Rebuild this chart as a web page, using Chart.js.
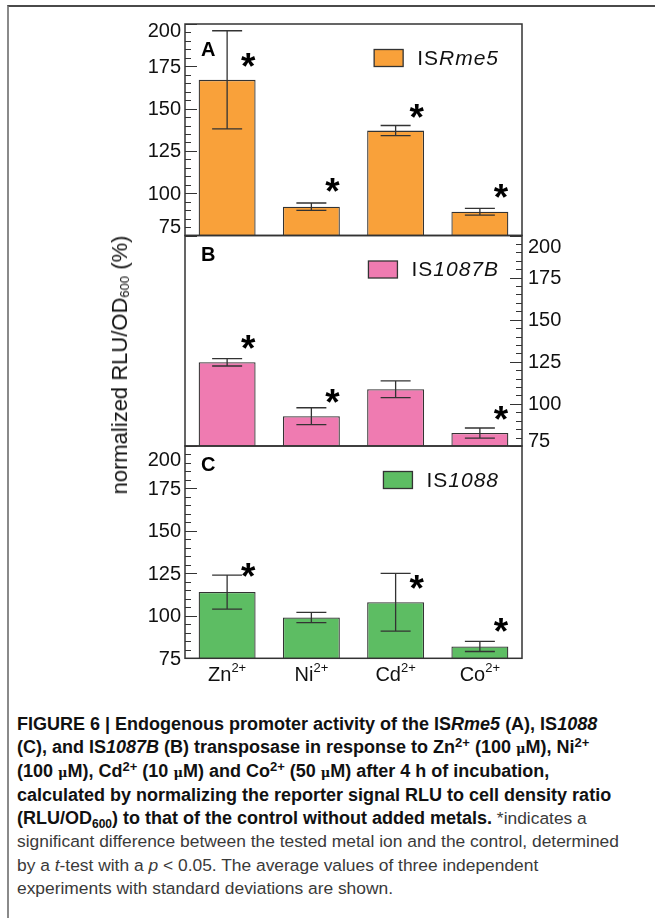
<!DOCTYPE html>
<html>
<head>
<meta charset="utf-8">
<script src="https://cdn.jsdelivr.net/npm/chart.js@4.4.1/dist/chart.umd.min.js"></script>
<style>
  html, body { margin: 0; padding: 0; background: #fff; }
  #fig { position: relative; width: 655px; height: 918px; overflow: hidden; }
  #frame { position: absolute; left: 7px; top: 5px; right: -4px; bottom: -4px; border-top: 2px solid #4a4a4a; border-left: 2px solid #8a8a8a; }
  canvas { position: absolute; left: 0; }
  #ytitle {
    position: absolute; left: 120px; top: 365px; transform: translate(-50%, -50%) rotate(-90deg);
    font: 22px "Liberation Sans", Arial, sans-serif; color: #111; white-space: nowrap; line-height: 24px;
  }
  #ytitle sub { font-size: 13px; vertical-align: -2px; line-height: 0; }
  #caption {
    position: absolute; left: 17px; top: 713px; width: 640px;
    font: 17.4px "Liberation Sans", Arial, sans-serif; line-height: 23.1px; color: #3a3a3a; white-space: nowrap;
  }
  #caption b { color: #111; font-size: 18px; }
  #caption .mu { font-family: "DejaVu Serif", serif; font-size: 13px; }
  #caption sup { font-size: 13px; vertical-align: 6px; line-height: 0; }
  #caption sub { font-size: 12px; vertical-align: -4px; line-height: 0; }
</style>
</head>
<body>
<div id="fig">
  <div id="frame"></div>
  <canvas id="cA" width="655" height="250" style="top:0px"></canvas>
  <canvas id="cB" width="655" height="240" style="top:220px"></canvas>
  <canvas id="cC" width="655" height="270" style="top:430px"></canvas>
  <div id="ytitle">normalized RLU/OD<sub>600</sub> (%)</div>
  <div id="caption">
    <b>FIGURE 6 | Endogenous promoter activity of the IS<i>Rme5</i> (A), IS<i>1088</i></b><br>
    <b>(C), and IS<i>1087B</i> (B) transposase in response to Zn<sup>2+</sup> (100 <span class="mu">μ</span>M), Ni<sup>2+</sup></b><br>
    <b>(100 <span class="mu">μ</span>M), Cd<sup>2+</sup> (10 <span class="mu">μ</span>M) and Co<sup>2+</sup> (50 <span class="mu">μ</span>M) after 4 h of incubation,</b><br>
    <b>calculated by normalizing the reporter signal RLU to cell density ratio</b><br>
    <b>(RLU/OD<sub>600</sub>) to that of the control without added metals.</b> *indicates a<br>
    significant difference between the tested metal ion and the control, determined<br>
    by a <i>t</i>-test with a <i>p</i> &lt; 0.05. The average values of three independent<br>
    experiments with standard deviations are shown.
  </div>
</div>
<script>
/* ── data ── */
const CAT_BASE = ['Zn', 'Ni', 'Cd', 'Co'];
const CAT_SUP = ['2+', '2+', '2+', '2+'];

const Y_MIN = 75, Y_MAX = 200, Y_STEP = 25, Y_MINOR = 5;

// ISRme5 (panel A)
const A_VALUES = [167, 92, 137, 89];
const A_ERR = [29, 2.2, 3, 2];
const A_STARS = [180, 106, 150, 102.5];

// IS1087B (panel B)
const B_VALUES = [124.7, 92.7, 108.7, 82.7];
const B_ERR = [2.2, 5, 5, 3];
const B_STARS = [138, 106, null, 95.5];

// IS1088 (panel C)
const C_VALUES = [114, 99, 108, 82];
const C_ERR = [10, 3, 17, 3];
const C_STARS = [128, null, 121, 96];

const FONT = '"Liberation Sans", Arial, sans-serif';
const INK = '#333';

/* ── panel drawing: error bars, frame, inner ticks, labels, stars, legend ── */
const panelPlugin = {
  id: 'panel',
  afterDatasetsDraw(chart, args, o) {
    const { ctx, chartArea: a, scales: { x, y } } = chart;
    const meta = chart.getDatasetMeta(0);
    ctx.save();
    ctx.strokeStyle = INK;
    ctx.lineWidth = 1.3;

    // error bars
    o.values.forEach((v, i) => {
      const px = meta.data[i].x;
      const top = y.getPixelForValue(v + o.err[i]);
      const bot = y.getPixelForValue(v - o.err[i]);
      ctx.beginPath();
      ctx.moveTo(px, top); ctx.lineTo(px, bot);
      ctx.moveTo(px - 15, top); ctx.lineTo(px + 15, top);
      ctx.moveTo(px - 15, bot); ctx.lineTo(px + 15, bot);
      ctx.stroke();
    });

    // frame
    ctx.lineWidth = 1.5;
    ctx.strokeRect(a.left, a.top, a.right - a.left, a.bottom - a.top);

    // inner ticks + tick labels
    const right = o.side === 'right';
    const ax = right ? a.right : a.left;
    const dir = right ? -1 : 1;
    ctx.lineWidth = 1;
    ctx.beginPath();
    for (let v = Y_MIN; v <= Y_MAX; v += Y_MINOR) {
      const py = Math.round(y.getPixelForValue(v)) + 0.5;
      const len = v % Y_STEP === 0 ? 12 : 6;
      ctx.moveTo(ax, py); ctx.lineTo(ax + dir * len, py);
    }
    ctx.stroke();
    ctx.fillStyle = '#111';
    ctx.font = '20px ' + FONT;
    ctx.textBaseline = 'middle';
    ctx.textAlign = right ? 'left' : 'right';
    for (let v = Y_MIN; v <= Y_MAX; v += Y_STEP) {
      let py = y.getPixelForValue(v);
      if (v === Y_MAX) py += o.nudge[0];
      if (v === Y_MIN) py += o.nudge[1];
      ctx.fillText(String(v), right ? a.right + 6 : a.left - 4, py + 1);
    }

    // significance stars
    ctx.fillStyle = '#000';
    ctx.font = 'bold 37px ' + FONT;
    ctx.textAlign = 'center';
    ctx.textBaseline = 'alphabetic';
    o.stars.forEach((s, i) => {
      if (s == null) return;
      ctx.fillText('*', x.getPixelForValue(i) + 21, y.getPixelForValue(s) + 21);
    });

    // panel letter
    ctx.font = 'bold 20px ' + FONT;
    ctx.textAlign = 'left';
    ctx.textBaseline = 'middle';
    ctx.fillText(o.letter, a.left + 16, a.top + o.letterDy);

    // legend
    ctx.letterSpacing = '1px';
    ctx.font = '21px ' + FONT;
    const w1 = ctx.measureText('IS').width;
    ctx.font = 'italic 21px ' + FONT;
    const w2 = ctx.measureText(o.name).width;
    const tr = a.right - 23, ty = a.top + 34;
    const tx = tr - w1 - w2;
    ctx.fillStyle = '#111';
    ctx.font = '21px ' + FONT;
    ctx.fillText('IS', tx, ty + 1);
    ctx.font = 'italic 21px ' + FONT;
    ctx.fillText(o.name, tx + w1, ty + 1);
    ctx.letterSpacing = '0px';
    ctx.fillStyle = o.color;
    ctx.fillRect(tx - 14 - 29, ty - 8.5, 29, 17);
    ctx.lineWidth = 1.3;
    ctx.strokeRect(tx - 14 - 29, ty - 8.5, 29, 17);

    // category labels (bottom panel only)
    if (o.xlabels) {
      ctx.fillStyle = '#111';
      ctx.textBaseline = 'alphabetic';
      CAT_BASE.forEach((b, i) => {
        ctx.font = '20px ' + FONT;
        const wb = ctx.measureText(b).width;
        ctx.font = '13px ' + FONT;
        const ws = ctx.measureText(CAT_SUP[i]).width;
        const sx = x.getPixelForValue(i) - (wb + ws) / 2;
        const by = a.bottom + 23;
        ctx.font = '20px ' + FONT;
        ctx.fillText(b, sx, by);
        ctx.font = '13px ' + FONT;
        ctx.fillText(CAT_SUP[i], sx + wb, by - 9);
      });
    }
    ctx.restore();
  }
};

function makePanel(id, values, err, stars, color, letter, name, side, pad, extra) {
  return new Chart(document.getElementById(id), {
    type: 'bar',
    data: {
      labels: CAT_BASE,
      datasets: [{
        data: values, backgroundColor: color, borderColor: INK, borderWidth: 1.3,
        categoryPercentage: 1, barPercentage: 0.676
      }]
    },
    options: {
      responsive: false, animation: false, devicePixelRatio: 1,
      layout: { padding: pad },
      plugins: {
        legend: { display: false }, tooltip: { enabled: false },
        panel: Object.assign({ values, err, stars, color, letter, name, side }, extra)
      },
      scales: {
        x: { display: false },
        y: {
          position: side, min: Y_MIN, max: Y_MAX,
          ticks: { stepSize: Y_STEP, display: false },
          grid: { display: false, drawTicks: false }, border: { display: false },
          afterFit: s => { s.width = side === 'right' ? 133 : 185; }
        }
      }
    },
    plugins: [panelPlugin]
  });
}

makePanel('cA', A_VALUES, A_ERR, A_STARS, '#F9A13A', 'A', 'Rme5', 'left',
  { top: 24, bottom: 14.5, left: 0, right: 133 }, { nudge: [6, -9], letterDy: 26, xlabels: false });
makePanel('cB', B_VALUES, B_ERR, B_STARS, '#EF7BB1', 'B', '1087B', 'right',
  { top: 15.5, bottom: 14, left: 185, right: 0 }, { nudge: [11, -6], letterDy: 20, xlabels: false });
makePanel('cC', C_VALUES, C_ERR, C_STARS, '#5DBD63', 'C', '1088', 'left',
  { top: 16, bottom: 41.7, left: 0, right: 133 }, { nudge: [13, 0], letterDy: 19, xlabels: true });
</script>
</body>
</html>
